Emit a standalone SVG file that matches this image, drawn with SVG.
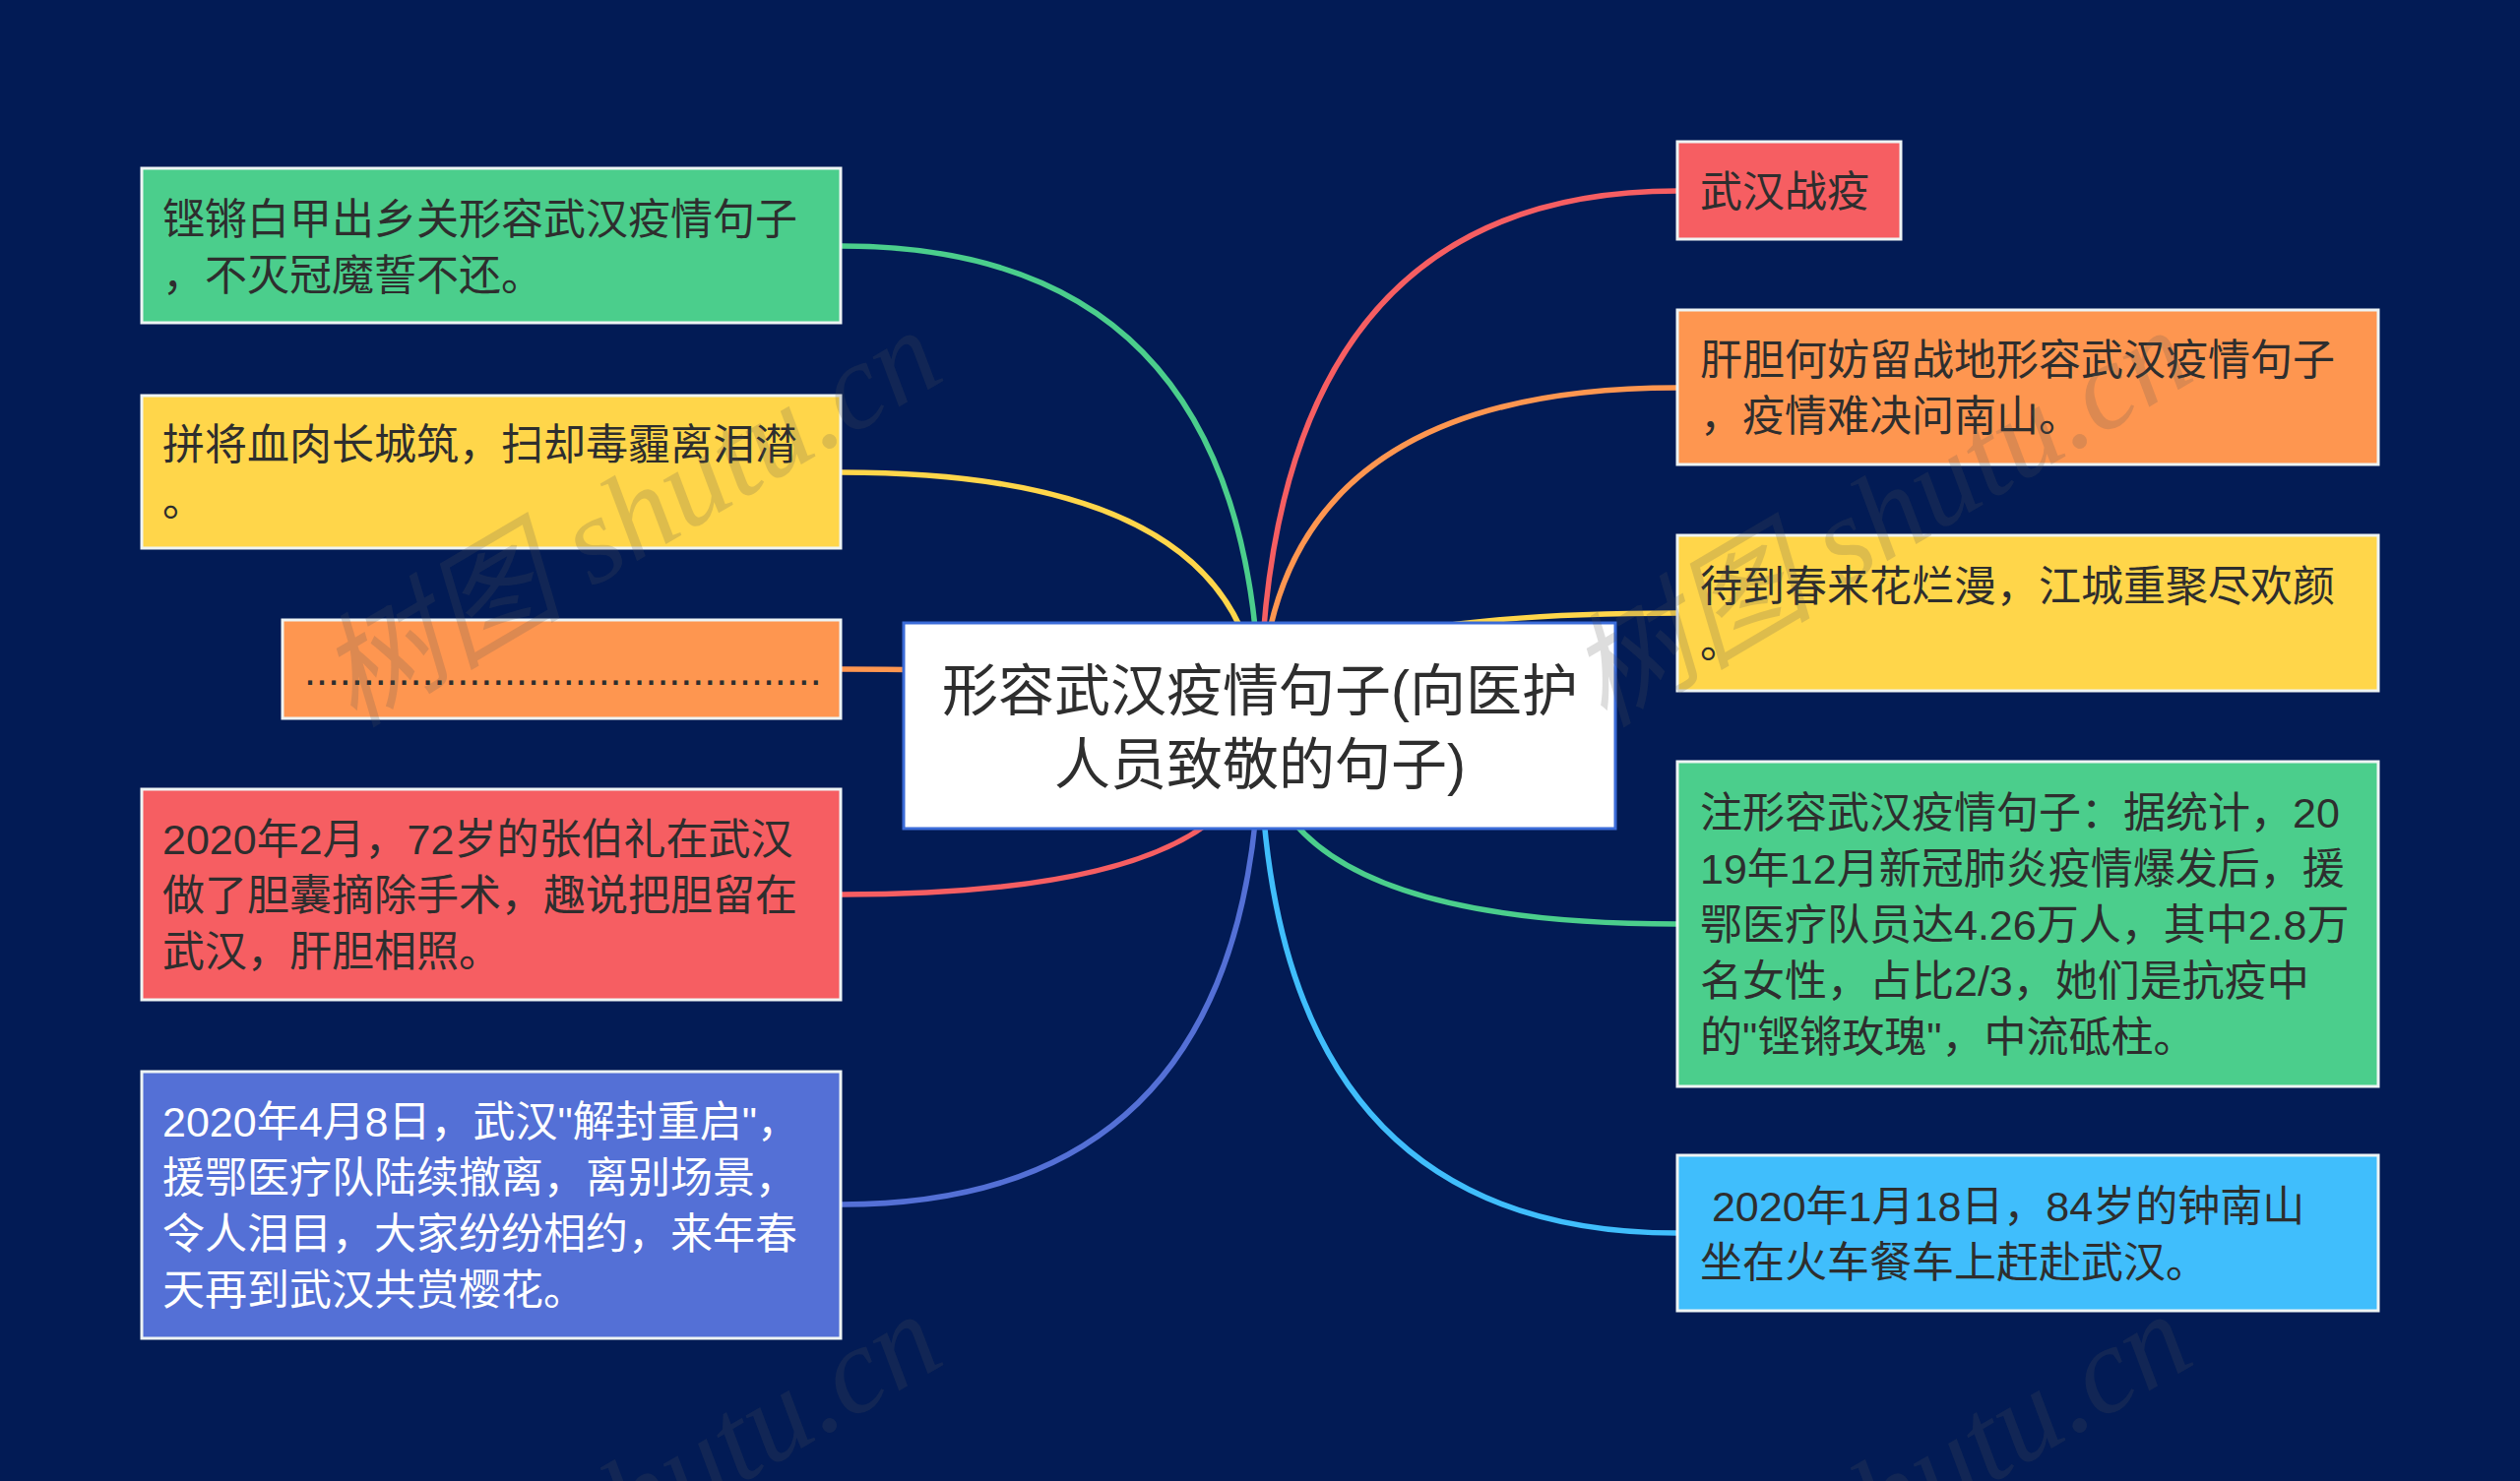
<svg xmlns="http://www.w3.org/2000/svg" width="2560" height="1505" viewBox="0 0 2560 1505">
<style>
.bg{fill:#021b55}
.box{stroke:#eef4f4;stroke-width:3}
.t{font-family:"Liberation Sans","Noto Sans CJK SC",sans-serif;font-size:43px;fill:#2e2e2e}
.tw{fill:#ffffff}
.root{fill:#ffffff;stroke:#3a6bd8;stroke-width:3}
.rt{font-family:"Liberation Sans","Noto Sans CJK SC",sans-serif;font-size:57px;fill:#2e2e2e;text-anchor:middle}
.c{fill:none;stroke-width:5.5;stroke-linecap:round}
.wm{font-family:"Liberation Serif","Noto Sans CJK SC",serif;font-style:italic;font-size:125px;fill:#555555;fill-opacity:0.2}
</style>
<rect class="bg" x="0" y="0" width="2560" height="1505"/>
<g id="connectors">
<path class="c" stroke="#4bce8c" d="M1280 737 Q1280 250 855 250"/>
<path class="c" stroke="#ffd64a" d="M1280 737 Q1280 480 855 480"/>
<path class="c" stroke="#fe9650" d="M1280 737 Q1280 680 855 680"/>
<path class="c" stroke="#f65e62" d="M1280 737 Q1280 909 855 909"/>
<path class="c" stroke="#5470d6" d="M1280 737 Q1280 1224 855 1224"/>
<path class="c" stroke="#f65e62" d="M1280 737 Q1280 194 1704 194"/>
<path class="c" stroke="#fe9650" d="M1280 737 Q1280 394 1704 394"/>
<path class="c" stroke="#ffd64a" d="M1280 737 Q1280 623 1704 623"/>
<path class="c" stroke="#4bce8c" d="M1280 737 Q1280 939 1704 939"/>
<path class="c" stroke="#40befc" d="M1280 737 Q1280 1253 1704 1253"/>
</g>
<g id="root">
<rect class="root" x="918" y="633" width="723" height="209"/>
<text class="rt" x="1280"><tspan x="1280" y="722">形容武汉疫情句子(向医护</tspan><tspan x="1280" y="797">人员致敬的句子)</tspan></text>
</g>
<g id="left1">
<rect class="box" fill="#4bce8c" x="144" y="171" width="710" height="157"/>
<text class="t"><tspan x="165" y="238">铿锵白甲出乡关形容武汉疫情句子</tspan><tspan x="165" y="295">，不灭冠魔誓不还。</tspan></text>
</g>
<g id="left2">
<rect class="box" fill="#ffd64a" x="144" y="402" width="710" height="155"/>
<text class="t"><tspan x="165" y="467">拼将血肉长城筑，扫却毒霾离泪潸</tspan><tspan x="165" y="524">。</tspan></text>
</g>
<g id="left3">
<rect class="box" fill="#fe9650" x="287" y="630" width="567" height="100"/>
<text class="t" x="309" y="696">............................................</text>
</g>
<g id="left4">
<rect class="box" fill="#f65e62" x="144" y="802" width="710" height="214"/>
<text class="t"><tspan x="165" y="868">2020年2月，72岁的张伯礼在武汉</tspan><tspan x="165" y="925">做了胆囊摘除手术，趣说把胆留在</tspan><tspan x="165" y="982">武汉，肝胆相照。</tspan></text>
</g>
<g id="left5">
<rect class="box" fill="#5470d6" x="144" y="1089" width="710" height="271"/>
<text class="t tw"><tspan x="165" y="1155">2020年4月8日，武汉"解封重启"，</tspan><tspan x="165" y="1212">援鄂医疗队陆续撤离，离别场景，</tspan><tspan x="165" y="1269">令人泪目，大家纷纷相约，来年春</tspan><tspan x="165" y="1326">天再到武汉共赏樱花。</tspan></text>
</g>
<g id="right1">
<rect class="box" fill="#f65e62" x="1704" y="144" width="227" height="99"/>
<text class="t" x="1727" y="210">武汉战疫</text>
</g>
<g id="right2">
<rect class="box" fill="#fe9650" x="1704" y="315" width="712" height="157"/>
<text class="t"><tspan x="1727" y="381">肝胆何妨留战地形容武汉疫情句子</tspan><tspan x="1727" y="438">，疫情难决问南山。</tspan></text>
</g>
<g id="right3">
<rect class="box" fill="#ffd64a" x="1704" y="544" width="712" height="158"/>
<text class="t"><tspan x="1727" y="611">待到春来花烂漫，江城重聚尽欢颜</tspan><tspan x="1727" y="668">。</tspan></text>
</g>
<g id="right4">
<rect class="box" fill="#4bce8c" x="1704" y="774" width="712" height="330"/>
<text class="t"><tspan x="1727" y="841">注形容武汉疫情句子：据统计，20</tspan><tspan x="1727" y="898">19年12月新冠肺炎疫情爆发后，援</tspan><tspan x="1727" y="955">鄂医疗队员达4.26万人，其中2.8万</tspan><tspan x="1727" y="1012">名女性，占比2/3，她们是抗疫中</tspan><tspan x="1727" y="1069">的"铿锵玫瑰"，中流砥柱。</tspan></text>
</g>
<g id="right5">
<rect class="box" fill="#40befc" x="1704" y="1174" width="712" height="158"/>
<text class="t" xml:space="preserve"><tspan x="1727" y="1241"> 2020年1月18日，84岁的钟南山</tspan><tspan x="1727" y="1298">坐在火车餐车上赶赴武汉。</tspan></text>
</g>
<g id="watermarks">
<text class="wm" transform="translate(359,740) rotate(-30.5)">树图 shutu.cn</text>
<text class="wm" transform="translate(1629,740) rotate(-30.5)">树图 shutu.cn</text>
<text class="wm" transform="translate(359,1740) rotate(-30.5)">树图 shutu.cn</text>
<text class="wm" transform="translate(1629,1740) rotate(-30.5)">树图 shutu.cn</text>
</g>
</svg>
